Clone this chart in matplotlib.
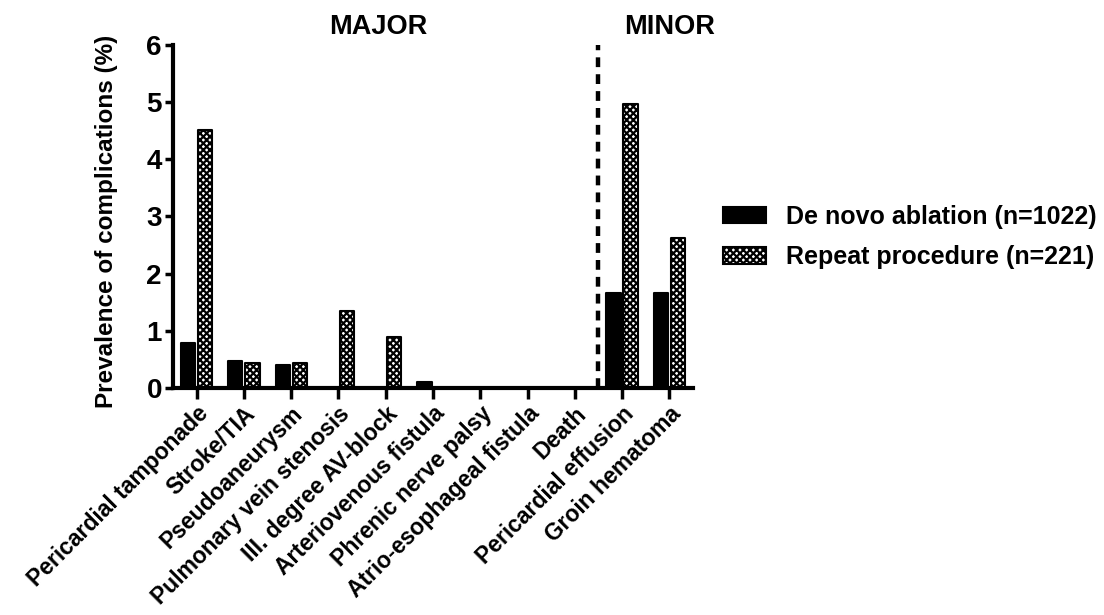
import matplotlib
matplotlib.use('Agg')
import matplotlib.pyplot as plt
import numpy as np

plt.rcParams['font.family'] = ['Liberation Sans', 'DejaVu Sans']
plt.rcParams['font.weight'] = 'bold'
plt.rcParams['hatch.linewidth'] = 1.6

# data
categories = ['Pericardial tamponade', 'Stroke/TIA', 'Pseudoaneurysm',
              'Pulmonary vein stenosis', 'III. degree AV-block',
              'Arteriovenous fistula', 'Phrenic nerve palsy',
              'Atrio-esophageal fistula', 'Death', 'Pericardial effusion',
              'Groin hematoma']
de_novo = [0.79, 0.47, 0.40, 0.0, 0.0, 0.10, 0.0, 0.0, 0.0, 1.67, 1.67]
repeat = [4.52, 0.44, 0.44, 1.35, 0.89, 0.0, 0.0, 0.0, 0.0, 4.97, 2.62]
series_names = ['De novo ablation (n=1022)', 'Repeat procedure (n=221)']
yticks = [0, 1, 2, 3, 4, 5, 6]

fig = plt.figure(figsize=(11.04, 6.15), dpi=100)
ax = fig.add_axes([0.1567, 0.369, 0.4710, 0.558])

x = np.arange(len(categories))
w = 0.30
b1 = ax.bar(x - 0.18, de_novo, w, color='black', edgecolor='black',
            linewidth=1.5, joinstyle='round', label=series_names[0])
b2 = ax.bar(x + 0.18, repeat, w, color='white', edgecolor='black',
            hatch='xxxxx', linewidth=1.5, joinstyle='round',
            label=series_names[1])
# hide zero-height bars
for bars, vals in ((b1, de_novo), (b2, repeat)):
    for r, v in zip(bars, vals):
        if v == 0:
            r.set_visible(False)

ax.axvline(8.5, color='black', linestyle=(0, (2.2, 1.6)), linewidth=3.2)

ax.set_xlim(-0.5, 10.5)
ax.set_ylim(0, 6)
ax.set_yticks(yticks)
ax.set_xticks(x)
ax.set_xticklabels(categories, rotation=45, ha='right',
                   rotation_mode='anchor', fontsize=16.5, fontweight='bold')
ax.tick_params(axis='y', labelsize=20, width=2.5, length=6, pad=2)
ax.tick_params(axis='x', width=2.5, length=8, pad=2)
for lab in ax.get_yticklabels():
    lab.set_fontweight('bold')

for s in ['top', 'right']:
    ax.spines[s].set_visible(False)
for s in ['left', 'bottom']:
    ax.spines[s].set_linewidth(3)

ax.set_ylabel('Prevalence of complications (%)', fontsize=17.5,
              fontweight='bold')
ax.yaxis.set_label_coords(-0.105, 0.485)

fig.text(378 / 1104, 1 - 27 / 615, 'MAJOR', fontsize=19.5, fontweight='bold',
         ha='center', va='center')
fig.text(670 / 1104, 1 - 27 / 615, 'MINOR', fontsize=19.5, fontweight='bold',
         ha='center', va='center')

leg = fig.legend(handles=[b1, b2], labels=series_names, loc='center left',
                 bbox_to_anchor=(723 / 1104, 1 - 237 / 615), frameon=False,
                 fontsize=18, handlelength=1.7, handleheight=0.65,
                 labelspacing=0.65, handletextpad=0.8, borderpad=0,
                 borderaxespad=0)
for t in leg.get_texts():
    t.set_fontweight('bold')

fig.savefig('out.png', dpi=100, facecolor='white')
